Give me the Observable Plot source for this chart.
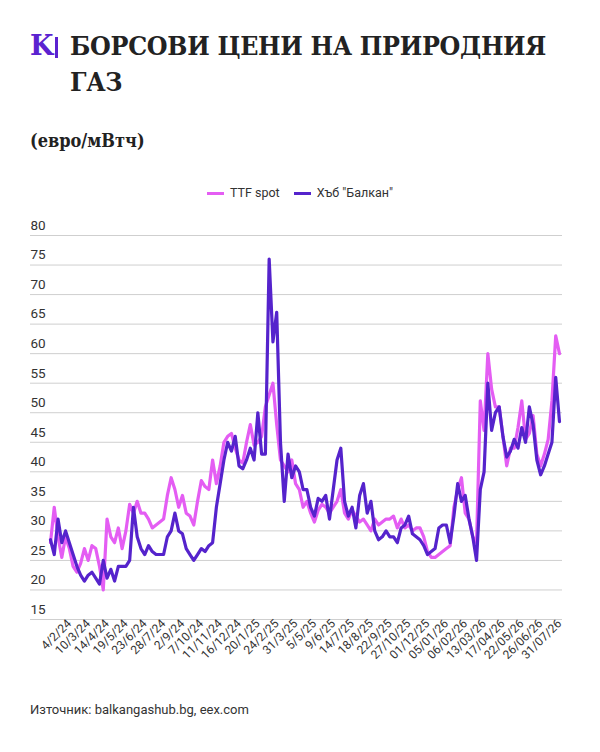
<!DOCTYPE html>
<html>
<head>
<meta charset="utf-8">
<script src="https://cdn.jsdelivr.net/npm/d3@7"></script>
<script src="https://cdn.jsdelivr.net/npm/@observablehq/plot@0.6"></script>
<style>
  body { margin:0; background:#fff; }
  #page { position:relative; width:600px; height:752px; background:#fff; overflow:hidden; }
  .logo { position:absolute; left:30px; top:28px; font-family:"DejaVu Serif", serif; font-weight:bold; font-size:27px; color:#5b22d0; line-height:36px; }
  .bar { position:absolute; left:55px; top:37px; width:2.5px; height:21px; background:#5b22d0; }
  .title { position:absolute; left:70px; top:28px; font-family:"DejaVu Serif Condensed","DejaVu Serif",serif; font-weight:bold; font-size:26.5px; line-height:36px; color:#222; letter-spacing:-0.3px; }
  .sub { position:absolute; left:30px; top:130px; font-family:"DejaVu Serif Condensed","DejaVu Serif",serif; font-weight:bold; font-size:18px; color:#222; }
  .legend { position:absolute; left:0; width:600px; top:185px; text-align:center; font-family:Roboto, sans-serif; font-size:12.5px; color:#333; }
  .legend span.item { display:inline-block; margin:0 7px; }
  .legend span.sw { display:inline-block; width:17px; height:3.5px; vertical-align:middle; margin-right:6px; }
  .caption { position:absolute; left:30px; top:702px; font-family:Roboto, sans-serif; font-size:13px; color:#333; }
  #chart { position:absolute; left:0; top:215px; }
</style>
</head>
<body>
<div id="page">
  <div class="logo">K</div>
  <div class="bar"></div>
  <div class="title">БОРСОВИ ЦЕНИ НА ПРИРОДНИЯ<br>ГАЗ</div>
  <div class="sub">(евро/мВтч)</div>
  <div class="legend" id="legend"></div>
  <div id="chart"></div>
  <div class="caption">Източник: balkangashub.bg, eex.com</div>
</div>
<script>
// Weekly values (week index 0 = start of series)
const ttfSpot = [
  28, 34, 29, 25.5, 29, 27, 24, 23, 24.5, 27,
  25, 27.5, 27, 24, 20, 32, 29, 28, 30.5, 27,
  30, 34.5, 33, 35, 33, 33, 32, 30.5, 31, 31.5,
  32, 36, 39, 37, 34, 36, 33, 32.5, 31, 35,
  38.5, 37.5, 37, 42, 38, 41, 45, 46, 46.5, 44,
  42, 41.5, 45, 48, 44.5, 45, 46, 51, 53, 55,
  48, 42, 41, 40, 42, 38, 37, 34,
  35, 33, 31.5, 33.5, 34.5, 34, 33, 34, 35, 37,
  33, 32, 33.5, 32.5, 31.5, 32, 31, 30, 32, 31,
  31.5, 32, 32, 32.5, 30.5, 32, 30.5, 31, 30, 30.5,
  30.5, 29, 26.5, 25.5,
  25.5, 26, 26.5, 27, 27.5, 34, 37, 39, 33, 32,
  29, 28, 52, 47, 60, 54, 51, 51, 46, 41,
  44, 44, 47.5, 52, 45.5, 46.5, 49.5, 43, 41, 43,
  45.5, 52, 63, 60
];
const hubBalkan = [
  28.5, 26, 32, 28, 30, 28, 26, 24, 22.5, 21.5,
  22.5, 23, 22, 21, 25, 22, 23.5, 21.5, 24, 24,
  24, 25, 34, 29, 27, 26, 27.5, 26.5, 26, 26,
  26, 29, 30, 33, 30, 29.5, 27, 26, 25, 26,
  27, 26.5, 27.5, 28, 34, 38, 42, 45, 43.5, 46,
  41, 40.5, 42, 44, 42, 50, 43, 43, 76, 62,
  67, 45, 35, 43, 39, 41, 40, 37,
  37, 34, 32.5, 35.5, 35, 36, 32, 37, 42, 44,
  35, 32.5, 34, 30.5, 36, 38, 33, 35, 30, 28.5,
  29, 30, 29, 29, 28, 30.5, 31, 32.5, 29.5, 29,
  28.5, 27.5, 26, 26.5,
  27, 30.5, 31, 31, 28, 32.5, 38, 35, 36, 32,
  29, 25, 37, 40, 55, 47, 50, 51, 46, 42.5,
  43.5, 45.5, 44, 47.5, 45, 51, 48, 42, 39.5, 41,
  43, 45, 56, 48.5
];
const tickLabels = ["4/2/24","10/3/24","14/4/24","19/5/24","23/6/24","28/7/24","2/9/24","7/10/24","11/11/24","16/12/24","20/1/25","24/2/25","31/3/25","5/5/25","9/6/25","14/7/25","18/8/25","22/9/25","27/10/25","01/12/25","05/01/26","06/02/26","13/03/26","17/04/26","22/05/26","26/06/26","31/07/26"];
const yTicks = [15,20,25,30,35,40,45,50,55,60,65,70,75,80];
const seriesNames = ["TTF spot", "Хъб \"Балкан\""];
const seriesColors = ["#e45df3", "#5523cc"];

const ttfData = ttfSpot.map((v, i) => ({week: i, value: v}));
const balData = hubBalkan.map((v, i) => ({week: i, value: v}));
// a label every 5 weeks, first one at week 5
const tickWeeks = tickLabels.map((_, k) => 5 + 5 * k);

const chart = Plot.plot({
  width: 600,
  height: 464,
  marginTop: 20,
  marginBottom: 60,
  marginLeft: 30,
  marginRight: 38,
  style: {fontFamily: "Roboto, sans-serif", background: "transparent"},
  x: {domain: [-5.3, 135.8], axis: null},
  y: {domain: [15, 80], axis: null},
  marks: [
    Plot.ruleY(yTicks, {stroke: "#cfcfcf", strokeWidth: 1}),
    Plot.text(yTicks, {y: d => d, text: d => String(d), frameAnchor: "left", textAnchor: "start", dy: -10, fontSize: 13.5, fill: "#333"}),
    Plot.axisX({ticks: tickWeeks, tickFormat: d => tickLabels[(d - 5) / 5], tickRotate: -45, tickSize: 0, tickPadding: 2, fontSize: 12, color: "#333", label: null}),
    Plot.line(ttfData, {x: "week", y: "value", stroke: seriesColors[0], strokeWidth: 3.2}),
    Plot.line(balData, {x: "week", y: "value", stroke: seriesColors[1], strokeWidth: 3.2})
  ]
});
document.getElementById("chart").appendChild(chart);

const legend = document.getElementById("legend");
seriesNames.forEach((n, k) => {
  const item = document.createElement("span");
  item.className = "item";
  const sw = document.createElement("span");
  sw.className = "sw";
  sw.style.background = seriesColors[k];
  item.appendChild(sw);
  item.appendChild(document.createTextNode(n));
  legend.appendChild(item);
});
</script>
</body>
</html>
